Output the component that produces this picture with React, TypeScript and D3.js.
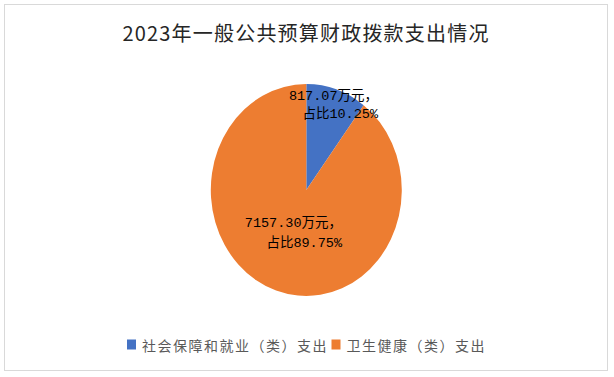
import React from "react";
import * as d3 from "d3";

const categories = ["社会保障和就业（类）支出", "卫生健康（类）支出"];
const values = [817.07, 7157.3];
const valueLabels = ["817.07万元，", "7157.30万元，"];
const shareLabels = ["占比10.25%", "占比89.75%"];
const colors = ["#4472C4", "#ED7D31"];
const title = "2023年一般公共预算财政拨款支出情况";

const W = 614;
const H = 377;

export default function App() {
  const cx = 306.3;
  const cy = 190;
  const rx = 95.5;
  const ry = 106;
  const pie = d3.pie<number>().sort(null).value((d) => d)(values);
  const arc = d3.arc<d3.PieArcDatum<number>>().innerRadius(0).outerRadius(rx);
  const labelPos = [
    { x: 378, y1: 100, y2: 118 },
    { x: 342, y1: 227, y2: 247 },
  ];
  const font = "'Noto Sans CJK SC', 'DejaVu Sans', sans-serif";
  const labelFont = "'Liberation Mono', 'Noto Sans CJK SC', monospace";
  const legendX = [127, 331.5];
  return (
    <svg
      width={W}
      height={H}
      style={{ position: "absolute", left: 0, top: 0 }}
    >
      <rect x={0} y={0} width={W} height={H} fill="#fff" />
      <rect x={4.5} y={4.5} width={603} height={366} fill="#fff" stroke="#d9d9d9" strokeWidth={1} />
      <text
        x={306}
        y={41}
        textAnchor="middle"
        fontFamily={font}
        fontSize={20}
        fill="#262626"
        letterSpacing={1.2}
      >
        {title}
      </text>
      <g transform={`translate(${cx},${cy}) scale(1,${ry / rx})`}>
        {pie.map((p, i) => (
          <path key={i} d={arc(p) || ""} fill={colors[i]} />
        ))}
      </g>
      {pie.map((p, i) => (
        <g key={i} fontFamily={labelFont} fontSize={13.5} fill="#000" textAnchor="end">
          <text x={labelPos[i].x} y={labelPos[i].y1}>{valueLabels[i]}</text>
          <text x={labelPos[i].x} y={labelPos[i].y2}>{shareLabels[i]}</text>
        </g>
      ))}
      {categories.map((c, i) => (
        <g key={i}>
          <rect x={legendX[i]} y={339.5} width={9} height={10} fill={colors[i]} />
          <text
            x={legendX[i] + 15}
            y={351}
            fontFamily={font}
            fontSize={14}
            fill="#595959"
            letterSpacing={1.5}
          >
            {c}
          </text>
        </g>
      ))}
    </svg>
  );
}
